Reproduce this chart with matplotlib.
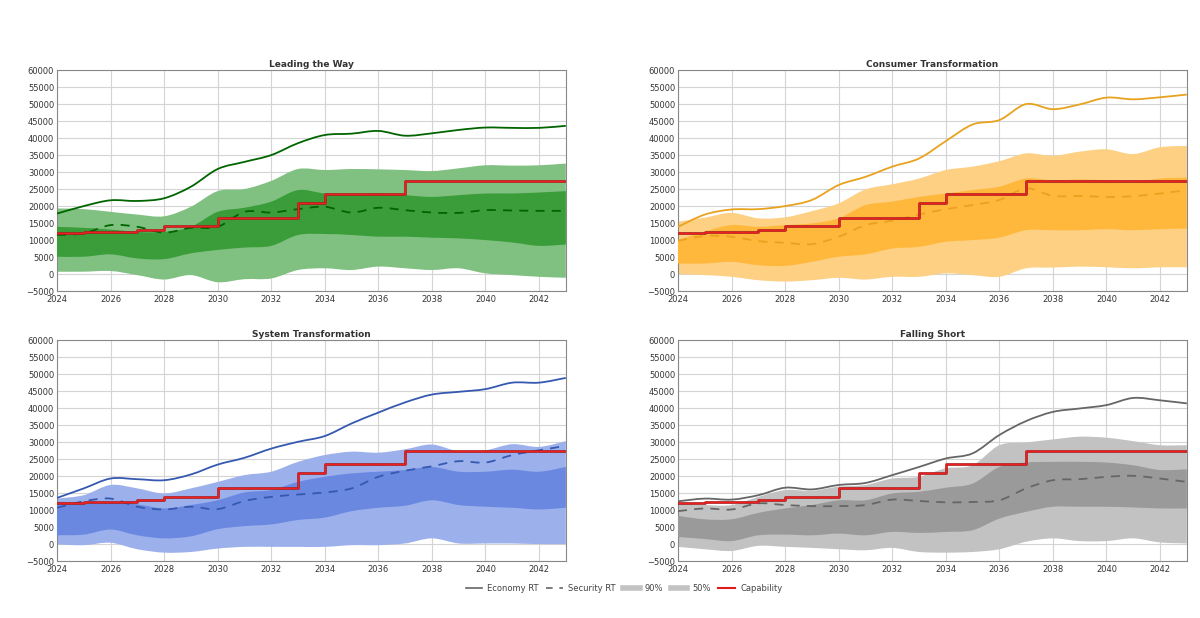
import matplotlib
matplotlib.use("Agg")
from matplotlib import pyplot as plt
from matplotlib.lines import Line2D
from matplotlib.path import Path
from matplotlib.patches import PathPatch
import numpy as np

years = list(range(2024, 2044))

titles = ["Leading the Way", "Consumer Transformation", "System Transformation", "Falling Short"]

# capability step (same in every panel)
capability = [12000, 12500, 12500, 13000, 14000, 14000, 16500, 16500, 16500, 21000,
              23500, 23500, 23500, 27500, 27500, 27500, 27500, 27500, 27500, 27500]

# Leading the Way
ltw_econ = [17800, 20000, 21700, 21500, 22300, 25700, 30900, 33000, 35000, 38500,
            40900, 41300, 42100, 40700, 41400, 42400, 43100, 43000, 43000, 43600]
ltw_sec = [11500, 12000, 14400, 13900, 12200, 13600, 13900, 18300, 18100, 19100,
           19800, 18100, 19500, 18800, 18100, 18000, 18800, 18700, 18600, 18600]
ltw_90hi = [19300, 19100, 18300, 17500, 17000, 19800, 24400, 25000, 27400, 30900,
            30600, 30900, 30800, 30600, 30300, 31100, 32000, 31900, 32000, 32500]
ltw_50hi = [13900, 13600, 13100, 12400, 12400, 13900, 18300, 19500, 21300, 24700,
            23700, 23400, 23700, 23200, 22700, 23200, 23700, 23700, 24000, 24400]
ltw_50lo = [5100, 5100, 5800, 4600, 4400, 6100, 7100, 7800, 8300, 11500,
            11800, 11500, 11000, 11000, 10700, 10500, 10000, 9300, 8300, 8700]
ltw_90lo = [700, 700, 900, -300, -1600, -300, -2400, -1500, -1300, 1200,
            1700, 1200, 2200, 1700, 1200, 1700, 200, -300, -800, -1100]

# Consumer Transformation
ct_econ = [13900, 17500, 19000, 19100, 20000, 21800, 26200, 28600, 31600, 34000,
           39100, 44000, 45300, 50000, 48500, 49900, 51900, 51400, 52000, 52800]
ct_sec = [9800, 11200, 11000, 9700, 9200, 8800, 11000, 14400, 15700, 17500,
          19100, 20300, 21800, 25200, 23000, 23000, 22700, 22900, 23700, 24700]
ct_90hi = [15400, 16600, 18000, 16400, 16700, 18500, 20800, 24900, 26400, 28100,
           30600, 31600, 33200, 35500, 34800, 36000, 36700, 35300, 37300, 37700]
ct_50hi = [10000, 12500, 14400, 13900, 14400, 14900, 16400, 20300, 21300, 22700,
           23700, 24700, 25700, 28100, 27600, 27800, 27600, 26900, 28100, 28400]
ct_50lo = [3100, 3100, 3600, 2600, 2400, 3600, 5100, 5800, 7500, 8000,
           9500, 10000, 10700, 12900, 12900, 12900, 13200, 12900, 13200, 13400]
ct_90lo = [0, -300, -800, -1800, -2200, -1800, -1100, -1600, -800, -800,
           200, -300, -800, 1700, 1900, 2200, 2000, 1700, 2000, 2000]

# System Transformation
st_econ = [13600, 16400, 19300, 19100, 18800, 20500, 23400, 25400, 28100, 30100,
           31800, 35500, 38700, 41700, 44000, 44800, 45600, 47500, 47500, 48900]
st_sec = [10700, 12600, 13400, 11000, 10200, 11000, 10300, 12700, 13900, 14600,
          15200, 16400, 19800, 21600, 22900, 24400, 24000, 26200, 27600, 28900]
st_90hi = [13400, 14400, 17400, 16400, 14900, 16400, 18300, 20300, 21300, 24200,
           26200, 27200, 26900, 27900, 29300, 27300, 27600, 29400, 28600, 30300]
st_50hi = [12400, 11900, 12400, 11700, 10500, 11500, 12900, 15200, 15900, 18300,
           19800, 20800, 21300, 21800, 22700, 21300, 21300, 21900, 21300, 22700]
st_50lo = [2600, 2800, 4300, 2600, 1700, 2300, 4400, 5300, 5800, 7100,
           7800, 9700, 10700, 11300, 12900, 11500, 11000, 10700, 10200, 10700]
st_90lo = [-100, -300, 400, -1500, -2500, -2300, -1300, -800, -800, -800,
           -800, -300, -300, 200, 1700, 200, 200, 200, 0, 0]

# Falling Short
fs_econ = [12600, 13400, 13100, 14400, 16600, 16100, 17400, 18000, 20300, 22700,
           25200, 26700, 32100, 36200, 38900, 39900, 40900, 43000, 42300, 41400]
fs_sec = [9700, 10500, 10200, 12000, 11500, 11200, 11200, 11500, 13100, 12700,
          12300, 12400, 12900, 16400, 18800, 19100, 19800, 20100, 19300, 18300]
fs_90hi = [12000, 11500, 11500, 13900, 15900, 15700, 16900, 17400, 19300, 19800,
           22300, 23200, 29100, 29900, 30800, 31600, 31300, 30300, 29100, 29100]
fs_50hi = [8300, 7300, 7300, 9200, 10500, 11500, 12900, 12900, 14900, 15400,
           16600, 17800, 22700, 24000, 24200, 24200, 24000, 23200, 21800, 22000]
fs_50lo = [2100, 1500, 900, 2600, 2800, 2600, 3100, 2600, 3600, 3300,
           3600, 4100, 7500, 9500, 11000, 11000, 11000, 10800, 10500, 10500]
fs_90lo = [-800, -1500, -2000, -500, -800, -1100, -1500, -1800, -1100, -2300,
           -2500, -2300, -1500, 700, 1700, 900, 900, 1700, 500, 200]

panels = [
    (ltw_econ, ltw_sec, ltw_90hi, ltw_50hi, ltw_50lo, ltw_90lo),
    (ct_econ, ct_sec, ct_90hi, ct_50hi, ct_50lo, ct_90lo),
    (st_econ, st_sec, st_90hi, st_50hi, st_50lo, st_90lo),
    (fs_econ, fs_sec, fs_90hi, fs_50hi, fs_50lo, fs_90lo),
]
# line, 90% band, 50% band
colors = [
    ("#006400", "#80c080", "#3a9d3a"),
    ("#e8a21e", "#fdd083", "#ffb83c"),
    ("#3558b0", "#9cb0ec", "#6a88e0"),
    ("#666666", "#c2c2c2", "#9a9a9a"),
]
positions = [
    [0.0475, 0.529, 0.424, 0.3576],
    [0.565, 0.529, 0.424, 0.3576],
    [0.0475, 0.092, 0.424, 0.3576],
    [0.565, 0.092, 0.424, 0.3576],
]


def spline_segs(x, y):
    # bezier control points (catmull-rom style) so the lines are drawn smooth
    x = np.asarray(x, float)
    y = np.asarray(y, float)
    n = len(x)
    verts = []
    for k in range(n - 1):
        p0 = k - 1 if k > 0 else k
        p3 = k + 2 if k + 2 < n else k + 1
        c1 = (x[k] + (x[k + 1] - x[p0]) / 6, y[k] + (y[k + 1] - y[p0]) / 6)
        c2 = (x[k + 1] - (x[p3] - x[k]) / 6, y[k + 1] - (y[p3] - y[k]) / 6)
        verts += [c1, c2, (x[k + 1], y[k + 1])]
    return (x[0], y[0]), verts


def smooth_line(ax, x, y, **kw):
    start, verts = spline_segs(x, y)
    codes = [Path.MOVETO] + [Path.CURVE4] * len(verts)
    ax.add_patch(PathPatch(Path([start] + verts, codes), fill=False, **kw))


def smooth_band(ax, x, lo, hi, color, z):
    s1, v1 = spline_segs(x, hi)
    s2, v2 = spline_segs(x[::-1], lo[::-1])
    verts = [s1] + v1 + [s2] + v2 + [s1]
    codes = ([Path.MOVETO] + [Path.CURVE4] * len(v1) + [Path.LINETO]
             + [Path.CURVE4] * len(v2) + [Path.CLOSEPOLY])
    ax.add_patch(PathPatch(Path(verts, codes), facecolor=color, lw=0, zorder=z))


fig = plt.figure(figsize=(12, 6.18), dpi=100)

for i in range(4):
    ax = fig.add_axes(positions[i])
    econ, sec, hi90, hi50, lo50, lo90 = panels[i]
    lc, c90, c50 = colors[i]
    smooth_band(ax, years, lo90, hi90, c90, 2)
    smooth_band(ax, years, lo50, hi50, c50, 3)
    smooth_line(ax, years, econ, edgecolor=lc, lw=1.3, zorder=5)
    smooth_line(ax, years, sec, edgecolor=lc, lw=1.3, ls=(0, (5, 4)), zorder=5)
    ax.step(years, capability, where="post", color="#a02020", lw=1.9, zorder=6)
    ax.step(years, capability, where="post", color="#f01e1e", lw=1.0, zorder=7)

    ax.set_xlim(2024, 2043)
    ax.set_ylim(-5000, 60000)
    ax.set_xticks(range(2024, 2043, 2))
    ax.set_yticks(range(-5000, 60001, 5000))
    ax.grid(True, color="#d4d4d4", lw=0.8, zorder=0)
    ax.set_axisbelow(True)
    ax.tick_params(labelsize=6, length=0, pad=2, colors="#333333")
    ax.tick_params(axis="x", pad=2.5)
    for s in ax.spines.values():
        s.set_color("#888888")
        s.set_linewidth(0.8)
    ax.set_title(titles[i], fontsize=6.5, fontweight="bold", color="#333333", pad=2)

handles = [
    Line2D([], [], color="#666666", lw=1.2),
    Line2D([], [], color="#666666", lw=1.2, ls=(0, (4, 4))),
    Line2D([], [], color="#c2c2c2", lw=4),
    Line2D([], [], color="#c2c2c2", lw=4),
    Line2D([], [], color="#dd1c1c", lw=1.5),
]
labels = ["Economy RT", "Security RT", "90%", "50%", "Capability"]
fig.legend(handles, labels, loc="center", bbox_to_anchor=(0.52, 0.048), ncol=5,
           frameon=False, fontsize=6, handlelength=2.0, columnspacing=0.9,
           handletextpad=0.6, labelcolor="#444444")

fig.savefig("out.png", dpi=100)
